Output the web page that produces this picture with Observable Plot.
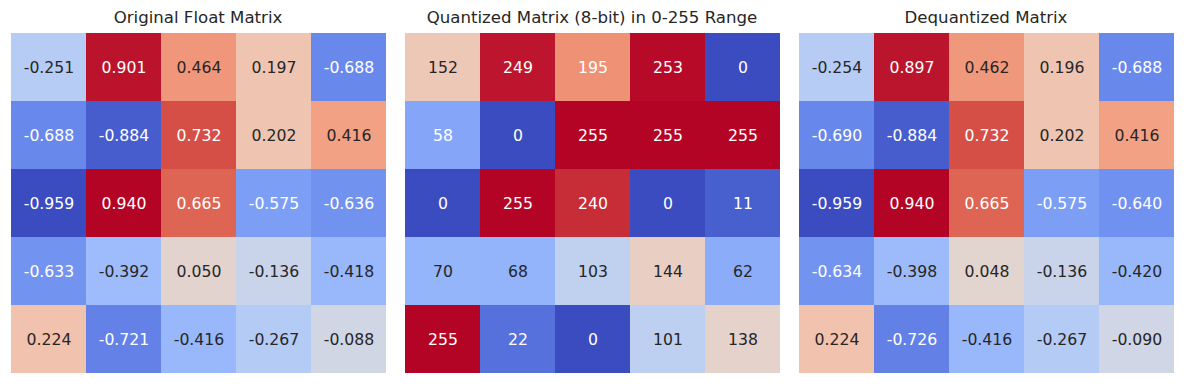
<!DOCTYPE html>
<html>
<head>
<meta charset="utf-8">
<script src="https://cdn.jsdelivr.net/npm/d3@7"></script>
<script src="https://cdn.jsdelivr.net/npm/@observablehq/plot@0.6"></script>
<style>
  html, body { margin: 0; padding: 0; background: #fff; }
  #root { position: relative; width: 1184px; height: 384px; font-family: "DejaVu Sans", sans-serif; }
  .title { position: absolute; top: 10px; width: 376px; text-align: center; font-size: 16.6px; line-height: 16.6px; color: #262626; white-space: nowrap; }
  .panel { position: absolute; top: 32px; }
</style>
</head>
<body>
<div id="root"></div>
<script>
const titles = ["Original Float Matrix", "Quantized Matrix (8-bit) in 0-255 Range", "Dequantized Matrix"];

const originalMatrix = [
  [-0.251, 0.901, 0.464, 0.197, -0.688],
  [-0.688, -0.884, 0.732, 0.202, 0.416],
  [-0.959, 0.940, 0.665, -0.575, -0.636],
  [-0.633, -0.392, 0.050, -0.136, -0.418],
  [0.224, -0.721, -0.416, -0.267, -0.088]
];
const quantizedMatrix = [
  [152, 249, 195, 253, 0],
  [58, 0, 255, 255, 255],
  [0, 255, 240, 0, 11],
  [70, 68, 103, 144, 62],
  [255, 22, 0, 101, 138]
];
const dequantizedMatrix = [
  [-0.254, 0.897, 0.462, 0.196, -0.688],
  [-0.690, -0.884, 0.732, 0.202, 0.416],
  [-0.959, 0.940, 0.665, -0.575, -0.640],
  [-0.634, -0.398, 0.048, -0.136, -0.420],
  [0.224, -0.726, -0.416, -0.267, -0.090]
];
const formats = [".3f", "d", ".3f"];

const coolwarmStops = ["#3b4cc0", "#6282ea", "#8db0fe", "#b8d0f9", "#dddcdc", "#f5c4ac", "#f49a7b", "#dc5d4a", "#b40426"];
const coolwarm = d3.interpolateRgbBasis(coolwarmStops);
const locale = d3.formatLocale({decimal: ".", thousands: ",", grouping: [3], currency: ["", ""], minus: "-"});

function luminance(c) {
  const rgb = d3.rgb(c);
  const lin = v => { v /= 255; return v <= 0.03928 ? v / 12.92 : Math.pow((v + 0.055) / 1.055, 2.4); };
  return 0.2126 * lin(rgb.r) + 0.7152 * lin(rgb.g) + 0.0722 * lin(rgb.b);
}

const root = document.getElementById("root");
const lefts = [10, 404, 798];
const matrices = [originalMatrix, quantizedMatrix, dequantizedMatrix];

matrices.forEach((m, k) => {
  const data = [];
  m.forEach((row, r) => row.forEach((v, c) => data.push({row: r, col: c, value: v})));
  const vmin = d3.min(data, d => d.value), vmax = d3.max(data, d => d.value);
  const fmt = locale.format(formats[k]);
  const textColor = d => luminance(coolwarm((d.value - vmin) / (vmax - vmin))) > 0.408 ? "#262626" : "#ffffff";

  const t = document.createElement("div");
  t.className = "title";
  t.style.left = lefts[k] + "px";
  t.textContent = titles[k];
  root.appendChild(t);

  const plot = Plot.plot({
    width: 376,
    height: 342,
    margin: 0,
    style: { fontFamily: "DejaVu Sans, sans-serif", fontSize: "15.7px", background: "transparent" },
    x: { type: "band", domain: d3.range(5), padding: 0, axis: null },
    y: { type: "band", domain: d3.range(5), padding: 0, axis: null },
    color: { type: "linear", domain: [vmin, vmax], interpolate: () => coolwarm, clamp: true },
    marks: [
      Plot.cell(data, { x: "col", y: "row", fill: "value", inset: 0 }),
      Plot.text(data, { x: "col", y: "row", text: d => fmt(d.value), fill: textColor, fontSize: 15.7 })
    ]
  });
  const p = document.createElement("div");
  p.className = "panel";
  p.style.left = lefts[k] + "px";
  p.appendChild(plot);
  root.appendChild(p);
});
</script>
</body>
</html>
